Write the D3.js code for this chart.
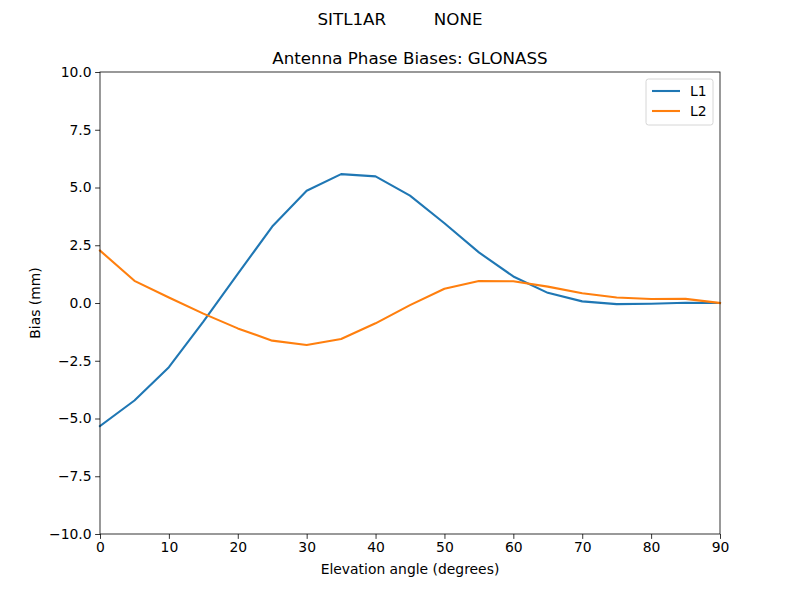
<!DOCTYPE html>
<html>
<head>
<meta charset="utf-8">
<script src="https://cdn.jsdelivr.net/npm/d3@7"></script>
<style>
  body { margin: 0; background: #fff; }
  text { font-family: "DejaVu Sans", sans-serif; fill: #000; }
</style>
</head>
<body>
<div id="chart"></div>
<script>
// data
var elevation = [0, 5, 10, 15, 20, 25, 30, 35, 40, 45, 50, 55, 60, 65, 70, 75, 80, 85, 90];
var l1 = [-5.33, -4.22, -2.78, -0.81, 1.26, 3.31, 4.86, 5.58, 5.48, 4.65, 3.45, 2.19, 1.15, 0.44, 0.07, -0.05, -0.03, 0.01, 0.0];
var l2 = [2.27, 0.96, 0.24, -0.46, -1.1, -1.63, -1.82, -1.56, -0.88, -0.09, 0.62, 0.95, 0.94, 0.71, 0.42, 0.24, 0.17, 0.18, 0.0];
var xTicks = [0, 10, 20, 30, 40, 50, 60, 70, 80, 90];
var yTicks = [-10, -7.5, -5, -2.5, 0, 2.5, 5, 7.5, 10];
var seriesNames = ["L1", "L2"];
var seriesColors = ["#1f77b4", "#ff7f0e"];

// set the dimensions and margins of the graph
var margin = {top: 72, right: 80, bottom: 66, left: 100},
    width = 800 - margin.left - margin.right,
    height = 600 - margin.top - margin.bottom;

var svg = d3.select("#chart")
  .append("svg")
    .attr("width", 800)
    .attr("height", 600);

var g = svg.append("g")
    .attr("transform", "translate(" + margin.left + "," + margin.top + ")");

var x = d3.scaleLinear().domain([0, 90]).range([0, width]);
var y = d3.scaleLinear().domain([-10, 10]).range([height, 0]);

var fmtMinus = function (s) { return s.replace("-", "\u2212"); };

// X axis
var xAxis = g.append("g")
    .attr("transform", "translate(0," + height + ")")
    .call(d3.axisBottom(x).tickValues(xTicks).tickSize(4.9).tickPadding(3.5)
      .tickFormat(function (d) { return fmtMinus(d3.format("d")(d)); }));

// Y axis
var yAxis = g.append("g")
    .call(d3.axisLeft(y).tickValues(yTicks).tickSize(4.9).tickPadding(3.5)
      .tickFormat(function (d) { return fmtMinus(d3.format(".1f")(d)); }));

[xAxis, yAxis].forEach(function (a) {
  a.select(".domain").remove();
  a.selectAll("line").attr("stroke", "#000").attr("stroke-width", 0.8);
  a.selectAll("text").attr("font-size", "13.9px").attr("font-family", "DejaVu Sans").attr("fill", "#000");
});

// lines
var line = d3.line()
    .x(function (d) { return x(d[0]); })
    .y(function (d) { return y(d[1]); });

[l1, l2].forEach(function (vals, i) {
  g.append("path")
    .datum(elevation.map(function (e, k) { return [e, vals[k]]; }))
    .attr("fill", "none")
    .attr("stroke", seriesColors[i])
    .attr("stroke-width", 2.1)
    .attr("stroke-linejoin", "round")
    .attr("stroke-linecap", "square")
    .attr("d", line);
});

// frame
g.append("rect")
  .attr("width", width).attr("height", height)
  .attr("fill", "none").attr("stroke", "#000").attr("stroke-width", 0.8);

// titles
svg.append("text")
  .attr("x", 400).attr("y", 25)
  .attr("text-anchor", "middle").attr("font-size", "16.7px")
  .attr("xml:space", "preserve")
  .text("SITL1AR         NONE");

svg.append("text")
  .attr("x", margin.left + width / 2).attr("y", 64)
  .attr("text-anchor", "middle").attr("font-size", "16.7px")
  .text("Antenna Phase Biases: GLONASS");

svg.append("text")
  .attr("x", margin.left + width / 2).attr("y", 574)
  .attr("text-anchor", "middle").attr("font-size", "13.9px")
  .text("Elevation angle (degrees)");

svg.append("text")
  .attr("transform", "translate(40," + (margin.top + height / 2) + ") rotate(-90)")
  .attr("text-anchor", "middle").attr("font-size", "13.9px")
  .text("Bias (mm)");

// legend
var legend = g.append("g").attr("transform", "translate(" + (width - 74) + ",7)");
legend.append("rect")
  .attr("width", 67).attr("height", 46).attr("rx", 2.5)
  .attr("fill", "#fff").attr("fill-opacity", 0.8)
  .attr("stroke", "#ccc").attr("stroke-width", 0.8);
seriesNames.forEach(function (name, i) {
  var row = legend.append("g").attr("transform", "translate(0," + (12 + i * 20) + ")");
  row.append("line")
    .attr("x1", 6).attr("x2", 34)
    .attr("stroke", seriesColors[i]).attr("stroke-width", 2.1);
  row.append("text")
    .attr("x", 44).attr("dy", "0.35em")
    .attr("font-size", "13.9px")
    .text(name);
});
</script>
</body>
</html>
